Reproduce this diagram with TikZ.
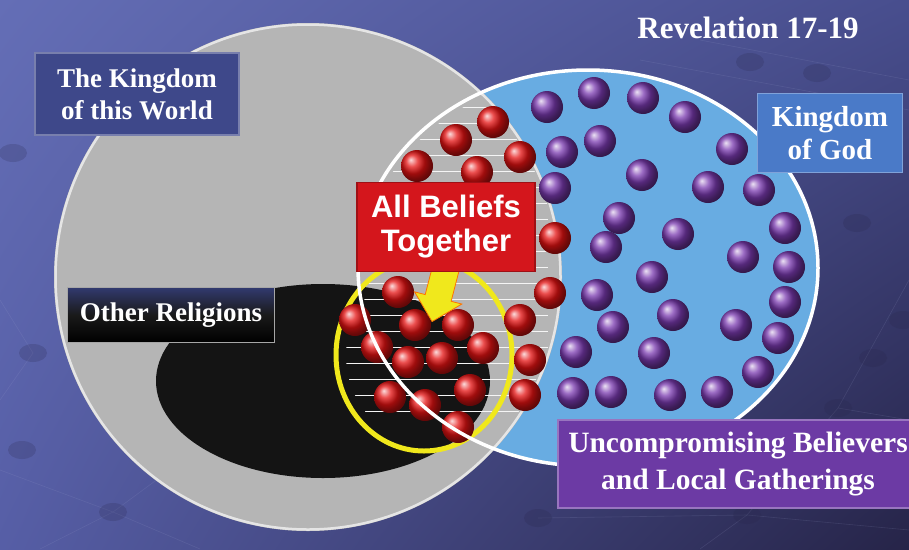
\documentclass[tikz,border=0pt]{standalone}
\usepackage{fontspec}
\setmainfont{Liberation Serif}
\newfontfamily\beliefsfont{Liberation Sans}
\usetikzlibrary{shapes.arrows,shadings}

\definecolor{bgtl}{RGB}{100,110,182}
\definecolor{bgtr}{RGB}{72,78,142}
\definecolor{bgbl}{RGB}{86,94,166}
\definecolor{bgbr}{RGB}{38,36,72}
\definecolor{worldgrey}{RGB}{181,181,181}
\definecolor{godblue}{RGB}{104,172,226}
\definecolor{worldbox}{RGB}{62,72,138}
\definecolor{godbox}{RGB}{74,122,200}
\definecolor{redbox}{RGB}{212,22,28}
\definecolor{purplebox}{RGB}{108,58,164}
\definecolor{beadred}{RGB}{228,18,18}
\definecolor{beadpurple}{RGB}{122,58,176}
\definecolor{ringyellow}{RGB}{240,232,28}

\begin{document}
\begin{tikzpicture}[x=1pt, y=-1pt,
    labelbox/.style={draw, line width=1.5pt, align=center, text=white, inner sep=0pt,
        font=\fontsize{27}{32}\selectfont\bfseries},
    griddot/.style={fill=bgbr, opacity=0.2},
    gridline/.style={draw=bgtl!60!white, opacity=0.15, line width=0.6pt}]
    \useasboundingbox (0,0) rectangle (909,549);

    % --- Fondo con rejilla de puntos ---
    \shade[upper left=bgtl, upper right=bgtr, lower left=bgbl, lower right=bgbr]
        (0,0) rectangle (909,549);
    \draw[gridline] (0,470) -- (113,512) -- (200,549);
    \draw[gridline] (40,549) -- (113,512) -- (170,470);
    \draw[gridline] (0,300) -- (33,353) -- (0,400);
    \draw[gridline] (640,60) -- (909,110);
    \draw[gridline] (700,40) -- (909,80);
    \draw[gridline] (909,280) -- (838,408) -- (747,515) -- (700,549);
    \draw[gridline] (909,420) -- (838,408);
    \draw[gridline] (538,518) -- (747,515) -- (909,530);
    \foreach \dx/\dy in {113/512, 33/353, 22/450, 13/153, 750/62, 817/73, 857/223,
                         873/358, 838/408, 903/320, 747/515, 538/518}
        \fill[griddot] (\dx,\dy) ellipse [x radius=14, y radius=9];

    % --- Reino de Dios (elipse azul) y reino del mundo (disco gris) ---
    \fill[godblue] (588,268) ellipse [x radius=230, y radius=198];
    \fill[worldgrey] (308,277) circle (254);
    \draw[white!65!worldgrey, line width=2.5pt] (308,277) circle (252.5);
    \fill[black!92] (323,381) ellipse [x radius=167, y radius=97];

    % --- Rayas blancas en la zona compartida ---
    \begin{scope}
        \clip (308,277) circle (250);
        \clip (588,268) ellipse [x radius=225, y radius=193];
        \foreach \ly in {107,123,...,411}
            \draw[white!92!gray, line width=1pt] (330,\ly) -- (548,\ly);
    \end{scope}
    \begin{scope}
        \clip (308,277) circle (250);
        \clip (424,355) ellipse [x radius=78, y radius=86];
        \foreach \ly in {299,315,...,411}
            \draw[white!92!gray, line width=1pt] (330,\ly) -- (548,\ly);
    \end{scope}

    % --- Anillo amarillo ---
    \draw[ringyellow, line width=5pt] (424,355) ellipse [x radius=88, y radius=96];

    % --- Creencias (rojas) y creyentes (morados) ---
    \foreach \bx/\by in {493/122, 456/140, 520/157, 417/166, 477/172, 555/238,
                         398/292, 550/293, 355/320, 415/325, 458/325, 520/320,
                         377/347, 408/362, 442/358, 483/348, 530/360,
                         390/397, 425/405, 470/390, 525/395, 458/427}
        \shade[ball color=beadred] (\bx,\by) circle (16);
    \foreach \bx/\by in {547/107, 594/93, 643/98, 685/117, 562/152, 600/141, 732/149,
                         555/188, 642/175, 708/187, 759/190, 619/218, 785/228, 678/234,
                         606/247, 743/257, 789/267, 652/277, 597/295, 785/302, 673/315,
                         613/327, 736/325, 778/338, 576/352, 654/353, 758/372, 573/393,
                         611/392, 670/395, 717/392}
        \shade[ball color=beadpurple] (\bx,\by) circle (16);

    % --- Borde blanco del reino de Dios ---
    \draw[white, line width=3.5pt] (588,268) ellipse [x radius=230, y radius=198];

    % --- Flecha amarilla hacia las creencias ---
    \node[single arrow, fill=ringyellow, draw=orange!90!red, line width=0.8pt,
          inner sep=13pt, single arrow head extend=11pt, minimum height=58pt,
          rotate=-104.5] (pointer) at (441,287) {};

    % --- Etiquetas ---
    \node[labelbox, fill=worldbox, draw=worldbox!70!white,
          minimum width=204pt, minimum height=82pt] (world) at (137,94)
          {The Kingdom\\of this World};
    \node[text=white, font=\fontsize{31}{34}\selectfont\bfseries] (revelation) at (748,28)
          {Revelation 17-19};
    \node[labelbox, fill=godbox, draw=godbox!70!white,
          font=\fontsize{29}{33}\selectfont\bfseries,
          minimum width=145pt, minimum height=79pt] (godkingdom) at (830,133)
          {Kingdom\\of God};
    \node[labelbox, fill=redbox, draw=redbox!75!black,
          font=\beliefsfont\fontsize{31}{34}\selectfont\bfseries,
          minimum width=178pt, minimum height=89pt] (beliefs) at (446,227)
          {All Beliefs\\Together};
    \node[labelbox, top color=worldbox!80!black, bottom color=black, middle color=black!90,
          draw=gray!70, line width=1.2pt,
          minimum width=207pt, minimum height=55pt] (others) at (171,315)
          {Other Religions};
    \node[labelbox, fill=purplebox, draw=purplebox!70!white,
          font=\fontsize{29.5}{37}\selectfont\bfseries,
          minimum width=360pt, minimum height=88pt] (believers) at (738,464)
          {Uncompromising Believers\\and Local Gatherings};
\end{tikzpicture}
\end{document}
